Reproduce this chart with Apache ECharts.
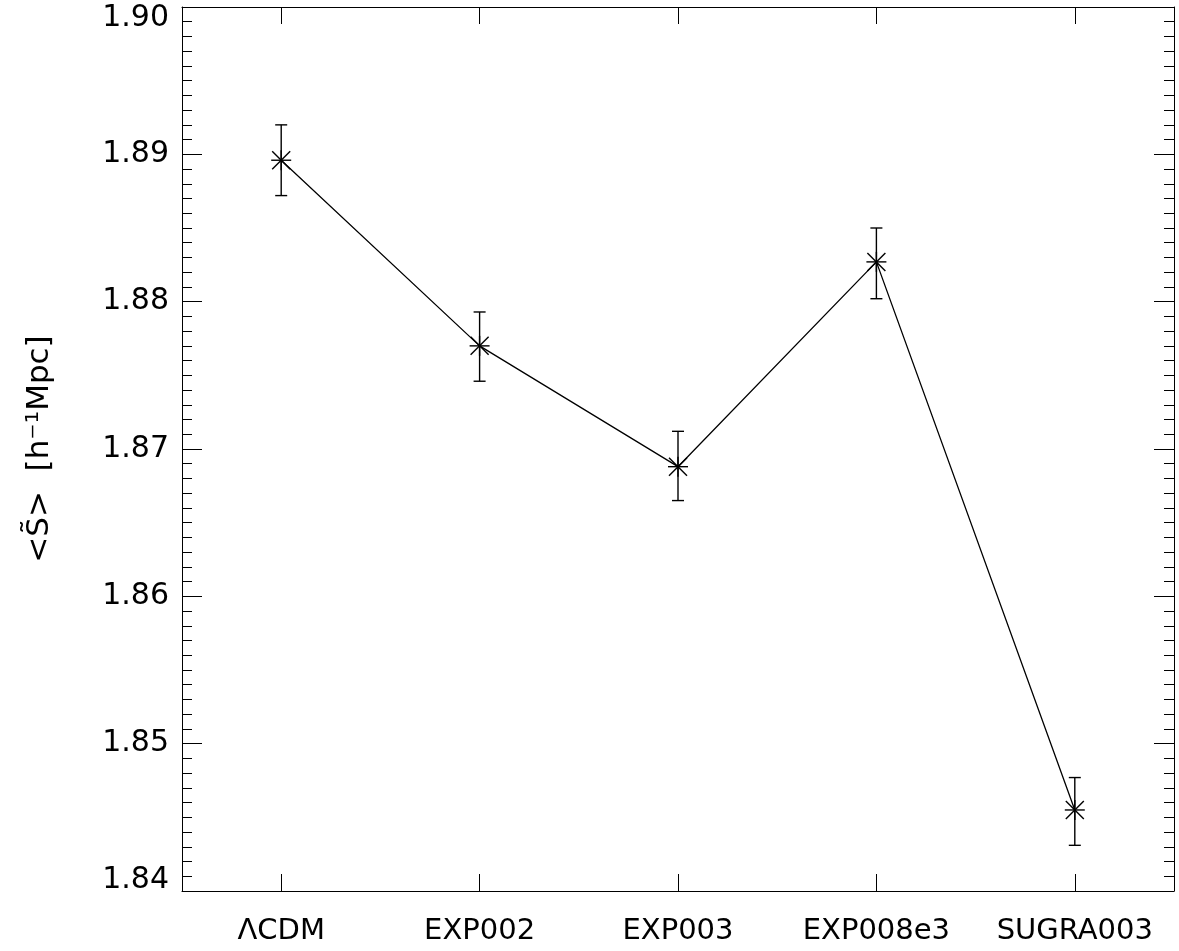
<!DOCTYPE html>
<html>
<head>
<meta charset="utf-8">
<script src="https://cdn.jsdelivr.net/npm/echarts@6/dist/echarts.min.js"></script>
<style>
  html, body { margin: 0; padding: 0; background: #fff; }
  #chart { width: 1179px; height: 951px; }
</style>
</head>
<body>
<div id="chart"></div>
<script>
const categories = ['\u039BCDM', 'EXP002', 'EXP003', 'EXP008e3', 'SUGRA003']
const meanValues = [1.8896, 1.8770, 1.8688, 1.8827, 1.8455]
const errLow = [1.8872, 1.8746, 1.8665, 1.8802, 1.8431]
const errHigh = [1.8920, 1.8793, 1.8712, 1.8850, 1.8477]
const yTicks = [1.84, 1.85, 1.86, 1.87, 1.88, 1.89, 1.90]

const font = '"DejaVu Sans", sans-serif'
const ink = '#000'

const chart = echarts.init(document.getElementById('chart'))

const baseX = {
  type: 'category',
  data: categories,
  boundaryGap: true,
  axisLine: { show: true, lineStyle: { color: ink, width: 1 } },
  axisTick: { show: true, inside: true, alignWithLabel: true, interval: 0, length: 17, lineStyle: { color: ink, width: 1 } },
  splitLine: { show: false }
}

const baseY = {
  type: 'value',
  min: yTicks[0],
  max: yTicks[yTicks.length - 1],
  interval: 0.01,
  axisLine: { show: true, lineStyle: { color: ink, width: 1 } },
  axisTick: { show: true, inside: true, length: 20, lineStyle: { color: ink, width: 1 } },
  minorTick: { show: true, splitNumber: 10, length: 10, lineStyle: { color: ink, width: 1 } },
  splitLine: { show: false },
  minorSplitLine: { show: false }
}

const errorData = categories.map((c, i) => [i, meanValues[i], errLow[i], errHigh[i]])

// error bar + asterisk marker, placed through the axis scales
const renderErr = (params, api) => {
  const i = api.value(0)
  const p = api.coord([i, api.value(1)])
  const lo = api.coord([i, api.value(2)])
  const hi = api.coord([i, api.value(3)])
  const cap = 6
  const r = 10
  const d = 9
  const style = { stroke: ink, lineWidth: 1.4 }
  const seg = (x1, y1, x2, y2) => ({ type: 'line', shape: { x1, y1, x2, y2 }, style })
  return {
    type: 'group',
    children: [
      seg(lo[0], lo[1], hi[0], hi[1]),
      seg(lo[0] - cap, lo[1], lo[0] + cap, lo[1]),
      seg(hi[0] - cap, hi[1], hi[0] + cap, hi[1]),
      seg(p[0] - r, p[1], p[0] + r, p[1]),
      seg(p[0], p[1] - r, p[0], p[1] + r),
      seg(p[0] - d, p[1] - d, p[0] + d, p[1] + d),
      seg(p[0] - d, p[1] + d, p[0] + d, p[1] - d)
    ]
  }
}

chart.setOption({
  animation: false,
  backgroundColor: '#fff',
  textStyle: { fontFamily: font, color: ink },
  grid: { left: 182, right: 5, top: 7, bottom: 60, containLabel: false, outerBoundsMode: 'none' },
  xAxis: [
    {
      ...baseX,
      position: 'bottom',
      axisLabel: { show: true, interval: 0, hideOverlap: false, color: ink, fontSize: 29, fontFamily: font, margin: 26 }
    },
    {
      ...baseX,
      position: 'top',
      axisLabel: { show: false }
    }
  ],
  yAxis: [
    {
      ...baseY,
      position: 'left',
      axisLabel: {
        show: true, color: ink, fontSize: 30, lineHeight: 22, fontFamily: font, margin: 13,
        verticalAlignMaxLabel: 'top',
        verticalAlignMinLabel: 'bottom',
        formatter: (v) => v.toFixed(2)
      },
      name: '<S\u0303>  [h\u207B\u00B9Mpc]',
      nameLocation: 'middle',
      nameRotate: 90,
      nameGap: 127,
      nameTextStyle: { color: ink, fontSize: 31, fontFamily: font }
    },
    {
      ...baseY,
      position: 'right',
      axisLabel: { show: false }
    }
  ],
  series: [
    {
      type: 'line',
      xAxisIndex: 0,
      yAxisIndex: 0,
      data: meanValues,
      symbol: 'none',
      lineStyle: { color: ink, width: 1.3 },
      z: 2
    },
    {
      type: 'custom',
      xAxisIndex: 0,
      yAxisIndex: 0,
      data: errorData,
      renderItem: renderErr,
      z: 3
    }
  ]
})

window.addEventListener('resize', () => chart.resize())
</script>
</body>
</html>
